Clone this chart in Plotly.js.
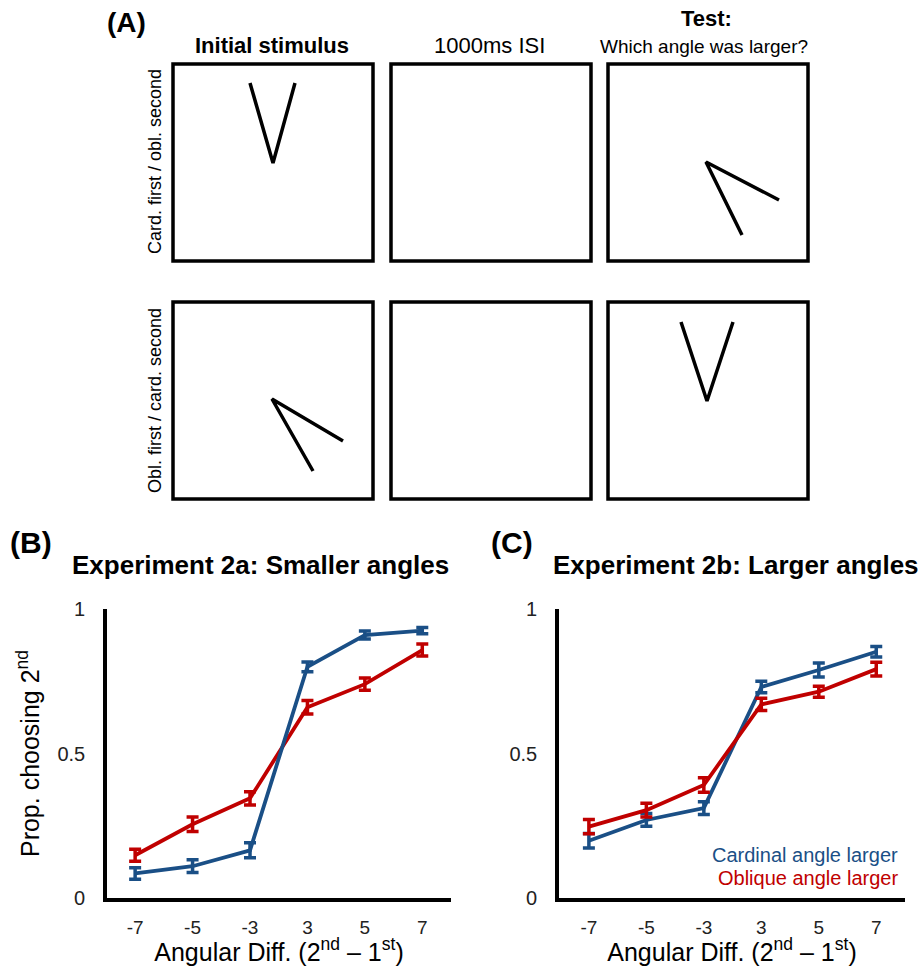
<!DOCTYPE html>
<html>
<head>
<meta charset="utf-8">
<script src="https://cdn.plot.ly/plotly-3.0.1.min.js"></script>
<style>html,body{margin:0;padding:0;background:#fff;}#chart{width:922px;height:966px;}</style>
</head>
<body>
<div id="chart"></div>
<script>
// ---------- data ----------
const angDiffLabels = ['-7', '-5', '-3', '3', '5', '7'];
const angDiffPos = [0, 1, 2, 3, 4, 5];

// Experiment 2a: Smaller angles
const exp2a_cardinal = [0.085, 0.11, 0.165, 0.80, 0.91, 0.925];
const exp2a_cardinalErr = [0.020, 0.022, 0.026, 0.017, 0.014, 0.011];
const exp2a_oblique = [0.148, 0.255, 0.345, 0.66, 0.74, 0.858];
const exp2a_obliqueErr = [0.021, 0.025, 0.023, 0.023, 0.021, 0.021];

// Experiment 2b: Larger angles
const exp2b_cardinal = [0.198, 0.27, 0.311, 0.73, 0.789, 0.852];
const exp2b_cardinalErr = [0.025, 0.022, 0.022, 0.020, 0.024, 0.018];
const exp2b_oblique = [0.247, 0.304, 0.391, 0.67, 0.714, 0.792];
const exp2b_obliqueErr = [0.025, 0.024, 0.025, 0.021, 0.019, 0.024];

const yTickVals = [0, 0.5, 1];
const yTickText = ['0', '0.5', '1'];

// Panel A schematic: columns / rows of frames and the stimuli inside them
const colHeaders = ['Initial stimulus', '1000ms ISI', 'Which angle was larger?'];
const rowLabels = ['Card. first / obl. second', 'Obl. first / card. second'];
// stimulus polyline (arm end -> vertex -> arm end), frame-relative units
const stimuli = [
  {row: 0, col: 0, x: [77, 100, 122], y: [19, 99, 19]},
  {row: 0, col: 2, x: [171, 98, 134], y: [136, 98, 171]},
  {row: 1, col: 0, x: [170, 99, 140], y: [139, 97, 169]},
  {row: 1, col: 2, x: [73, 99, 125], y: [20, 99, 20]}
];

// ---------- styling / geometry ----------
const W = 922, H = 966;
const BLUE = '#1a4f86', RED = '#c00000';
const FONT = 'Liberation Sans, Arial, sans-serif';
const frameLeft = [173, 391, 608], frameTop = [64, 302], frameW = 200, frameH = 197;

const traces = [];
function series(y, err, color, xa, ya, name) {
  return {
    type: 'scatter', mode: 'lines', x: angDiffPos, y: y, name: name,
    xaxis: xa, yaxis: ya, showlegend: false,
    line: {color: color, width: 3.8},
    error_y: {type: 'data', array: err, visible: true, color: color, thickness: 3.5, width: 6}
  };
}
traces.push(series(exp2a_oblique, exp2a_obliqueErr, RED, 'x', 'y', 'Oblique angle larger'));
traces.push(series(exp2a_cardinal, exp2a_cardinalErr, BLUE, 'x', 'y', 'Cardinal angle larger'));
traces.push(series(exp2b_cardinal, exp2b_cardinalErr, BLUE, 'x2', 'y2', 'Cardinal angle larger'));
traces.push(series(exp2b_oblique, exp2b_obliqueErr, RED, 'x2', 'y2', 'Oblique angle larger'));

stimuli.forEach(s => {
  traces.push({
    type: 'scatter', mode: 'lines', xaxis: 'x3', yaxis: 'y3', showlegend: false,
    x: s.x.map(v => v + frameLeft[s.col]), y: s.y.map(v => v + frameTop[s.row]),
    line: {color: '#000', width: 3.5}, hoverinfo: 'skip'
  });
});

const shapes = [];
frameTop.forEach(t => frameLeft.forEach(l => {
  shapes.push({type: 'rect', xref: 'x3', yref: 'y3', x0: l, x1: l + frameW, y0: t, y1: t + frameH,
    line: {color: '#000', width: 3.5}, fillcolor: 'rgba(0,0,0,0)'});
}));

function ann(text, x, y, size, opts) {
  return Object.assign({text: text, x: x, y: y, xref: 'x3', yref: 'y3', showarrow: false,
    xanchor: 'center', yanchor: 'middle', font: {family: FONT, size: size, color: '#000'}}, opts || {});
}
const annotations = [
  ann('<b>(A)</b>', 126, 22, 28),
  ann('<b>' + colHeaders[0] + '</b>', 272, 45, 22),
  ann(colHeaders[1], 489, 45, 22),
  ann('<b>Test:</b>', 706, 18, 22),
  ann(colHeaders[2], 704, 46, 19),
  ann(rowLabels[0], 155, 162, 18, {textangle: -90}),
  ann(rowLabels[1], 155, 401, 18, {textangle: -90}),
  ann('<b>(B)</b>', 31, 542, 30),
  ann('<b>(C)</b>', 512, 542, 30),
  ann('<b>Experiment 2a: Smaller angles</b>', 260, 565, 26),
  ann('<b>Experiment 2b: Larger angles</b>', 921, 565, 26, {xanchor: 'right'}),
  ann('Cardinal angle larger', 900, 855, 20, {xanchor: 'right', font: {family: FONT, size: 20, color: BLUE}}),
  ann('Oblique angle larger', 900, 878, 20, {xanchor: 'right', font: {family: FONT, size: 20, color: RED}})
];

const xTitle = 'Angular Diff. (2<sup>nd</sup> \u2013 1<sup>st</sup>)';
function xAxis(domain, range) {
  return {domain: domain, range: range, showline: true, linewidth: 3.8, linecolor: '#000',
    showgrid: false, zeroline: false, ticks: '', tickvals: angDiffPos, ticktext: angDiffLabels,
    tickfont: {family: FONT, size: 19, color: '#222'}, ticklabelstandoff: 9,
    title: {text: xTitle, font: {family: FONT, size: 25, color: '#000'}, standoff: 8}, fixedrange: true};
}
function yAxis(domain, anchor, withTitle) {
  const a = {domain: domain, range: [0, 1], anchor: anchor, showline: true, linewidth: 3.8, linecolor: '#000',
    showgrid: false, zeroline: false, ticks: '', tickvals: yTickVals, ticktext: yTickText,
    tickfont: {family: FONT, size: 20, color: '#222'}, ticklabelstandoff: 14, fixedrange: true};
  if (withTitle) a.title = {text: 'Prop. choosing 2<sup>nd</sup>', font: {family: FONT, size: 25, color: '#000'}, standoff: 12};
  return a;
}
const yDom = [(H - 898) / H, (H - 609) / H];

const layout = {
  width: W, height: H, margin: {l: 0, r: 0, t: 0, b: 0}, paper_bgcolor: '#fff', plot_bgcolor: 'rgba(0,0,0,0)',
  showlegend: false, font: {family: FONT},
  xaxis: Object.assign(xAxis([107 / W, 451 / W], [-0.49, 5.5]), {anchor: 'y'}),
  yaxis: yAxis(yDom, 'x', true),
  xaxis2: Object.assign(xAxis([559 / W, 905 / W], [-0.52, 5.5]), {anchor: 'y2'}),
  yaxis2: yAxis(yDom, 'x2', false),
  xaxis3: {domain: [0, 1], range: [0, W], visible: false, anchor: 'y3', fixedrange: true},
  yaxis3: {domain: [0, 1], range: [H, 0], visible: false, anchor: 'x3', fixedrange: true},
  shapes: shapes, annotations: annotations
};

Plotly.newPlot('chart', traces, layout, {staticPlot: true, displayModeBar: false});
</script>
</body>
</html>
